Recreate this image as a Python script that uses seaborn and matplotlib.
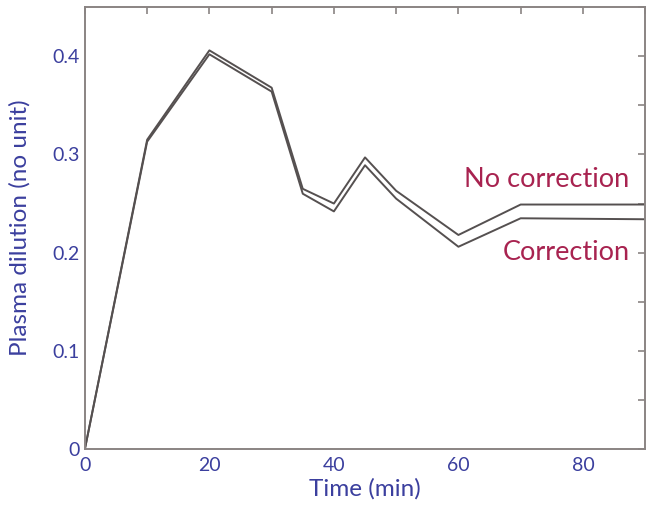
import matplotlib
matplotlib.use("Agg")
import matplotlib.pyplot as plt
import seaborn as sns
import pandas as pd
from matplotlib.ticker import MultipleLocator

time_min = [0, 10, 20, 30, 35, 40, 45, 50, 60, 70, 90]
no_correction = [0.0, 0.315, 0.406, 0.368, 0.265, 0.250, 0.297, 0.263, 0.218, 0.249, 0.249]
correction = [0.0, 0.313, 0.402, 0.364, 0.260, 0.242, 0.289, 0.255, 0.206, 0.235, 0.234]

df = pd.DataFrame({
    "time": time_min * 2,
    "dilution": no_correction + correction,
    "series": ["No correction"] * len(time_min) + ["Correction"] * len(time_min),
})

sns.set_style("white")
plt.rcParams["font.family"] = ["Lato", "DejaVu Sans"]

blue = "#3b3f9e"
red = "#a82350"
grey = "#8a8483"

fig = plt.figure(figsize=(6.53, 5.12), dpi=100)
ax = fig.add_axes([0.130, 0.123, 0.858, 0.863])

sns.lineplot(data=df, x="time", y="dilution", hue="series",
             palette={"No correction": "#555050", "Correction": "#555050"},
             linewidth=1.4, legend=False, ax=ax)

ax.set_xlim(0, 90)
ax.set_ylim(0, 0.45)
ax.xaxis.set_minor_locator(MultipleLocator(10))
ax.yaxis.set_minor_locator(MultipleLocator(0.05))
ax.set_xticks([0, 20, 40, 60, 80])
ax.set_xticklabels(["0", "20", "40", "60", "80"])
ax.set_yticks([0, 0.1, 0.2, 0.3, 0.4])
ax.set_yticklabels(["0", "0.1", "0.2", "0.3", "0.4"])

for s in ax.spines.values():
    s.set_color(grey)
    s.set_linewidth(1.4)
ax.tick_params(which="both", direction="in", top=True, right=True,
               length=5, width=1.2, color=grey, labelsize=14, labelcolor=blue)
ax.tick_params(axis="x", pad=6)

ax.set_xlabel("Time (min)", fontsize=17.5, color=blue, labelpad=3)
ax.set_ylabel("Plasma dilution (no unit)", fontsize=17.5, color=blue)
ax.yaxis.set_label_coords(-0.097, 0.5)

ax.text(87.5, 0.274, "No correction", color=red, fontsize=19.5, ha="right", va="center")
ax.text(87.5, 0.200, "Correction", color=red, fontsize=19.5, ha="right", va="center")

fig.savefig("out.png", dpi=100)
